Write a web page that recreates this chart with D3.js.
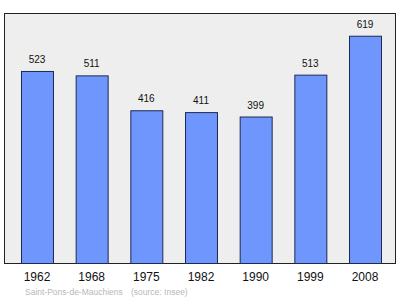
<!DOCTYPE html>
<html>
<head>
<meta charset="utf-8">
<script src="https://cdn.jsdelivr.net/npm/d3@7"></script>
<style>
  body { margin: 0; background: #fff; }
  text { font-family: "Liberation Sans", Arial, sans-serif; }
</style>
</head>
<body>
<div id="container"></div>
<script>
/* DATA */
const years = ["1962", "1968", "1975", "1982", "1990", "1999", "2008"];
const population = [523, 511, 416, 411, 399, 513, 619];
const commune = "Saint-Pons-de-Mauchiens";
const source = "(source: Insee)";

/* CONSTANTS */
const width = 400;
const height = 299;
const frame = { left: 4, right: 395, top: 13, bottom: 263 };

const data = years.map((y, i) => ({ year: y, value: population[i] }));

const svg = d3.select("#container").append("svg")
  .attr("width", width)
  .attr("height", height);

/* SCALES */
const xScale = d3.scaleBand()
  .domain(years)
  .range([21, 381])
  .paddingInner(0.415)
  .paddingOuter(0);

const yScale = d3.scaleLinear()
  .domain([0, d3.max(population) * 1.1])
  .range([frame.bottom, frame.top]);

/* FRAME */
svg.append("rect")
  .attr("x", frame.left + 0.5)
  .attr("y", frame.top + 0.5)
  .attr("width", frame.right - frame.left)
  .attr("height", frame.bottom - frame.top)
  .attr("fill", "#eeeeee")
  .attr("stroke", "#222")
  .attr("stroke-width", 1);

/* BARS */
svg.selectAll("rect.bar")
  .data(data)
  .join("rect")
  .attr("class", "bar")
  .attr("x", d => xScale(d.year) + 0.5)
  .attr("y", d => yScale(d.value) + 0.5)
  .attr("width", xScale.bandwidth())
  .attr("height", d => yScale(0) - yScale(d.value))
  .attr("fill", "#6f96fd")
  .attr("stroke", "#1d2a52")
  .attr("stroke-width", 1);

/* VALUE LABELS */
svg.selectAll("text.val")
  .data(data)
  .join("text")
  .attr("class", "val")
  .attr("x", d => xScale(d.year) + xScale.bandwidth() / 2)
  .attr("y", d => yScale(d.value) - 8)
  .attr("text-anchor", "middle")
  .attr("font-size", 10)
  .attr("fill", "#111")
  .text(d => d.value);

/* X AXIS */
const xAxis = d3.axisBottom(xScale).tickSize(0).tickPadding(0);
const gx = svg.append("g")
  .attr("transform", `translate(0, ${frame.bottom + 18})`)
  .call(xAxis);
gx.select(".domain").remove();
gx.selectAll("text")
  .attr("dy", 0)
  .attr("font-size", 12)
  .attr("fill", "#111")
  .style("font-family", '"Liberation Sans", Arial, sans-serif');

/* FOOTER */
svg.append("text")
  .attr("x", 25)
  .attr("y", 295)
  .attr("font-size", 8.5)
  .attr("fill", "#b8b8b8")
  .text(commune);

svg.append("text")
  .attr("x", 131)
  .attr("y", 295)
  .attr("font-size", 8.5)
  .attr("fill", "#b8b8b8")
  .text(source);
</script>
</body>
</html>
